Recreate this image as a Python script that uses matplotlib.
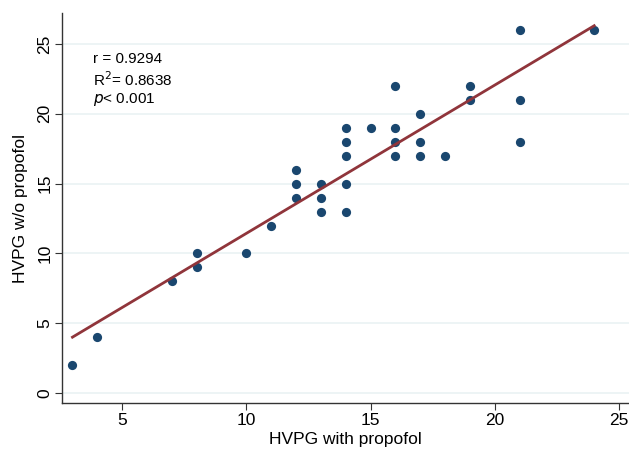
import numpy as np
import matplotlib
matplotlib.use("Agg")
import matplotlib.pyplot as plt

plt.rcParams['font.family'] = ['Liberation Sans', 'DejaVu Sans']

# HVPG readings (mmHg) with and without propofol
hvpg_with = [3, 4, 7, 8, 8, 10, 11, 12, 12, 12,
             13, 13, 13, 14, 14, 14, 14, 14, 15,
             16, 16, 16, 16, 17, 17, 17, 18, 19, 19,
             21, 21, 21, 24]
hvpg_without = [2, 4, 8, 10, 9, 10, 12, 16, 15, 14,
                15, 14, 13, 19, 18, 17, 15, 13, 19,
                22, 19, 18, 17, 20, 18, 17, 17, 22, 21,
                26, 21, 18, 26]
stats_lines = ["r = 0.9294", r"R$^2$= 0.8638", r"$\it{p}$< 0.001"]

x = np.array(hvpg_with, dtype=float)
y = np.array(hvpg_without, dtype=float)
slope, icpt = np.polyfit(x, y, 1)

fig = plt.figure(figsize=(6.29, 4.51), dpi=100)
ax = fig.add_axes([0.0986, 0.1064, 0.9014, 0.8646])

ax.set_xlim(2.58, 25.4)
ax.set_ylim(-0.7, 27.2)
ax.set_yticks([0, 5, 10, 15, 20, 25])
ax.set_xticks([5, 10, 15, 20, 25])
ax.grid(axis='y', color='#eaf2f3', lw=1.2)
ax.set_axisbelow(True)

ax.scatter(x, y, s=44, color='#1a476f', zorder=3, linewidths=0)
xx = np.array([x.min(), x.max()])
ax.plot(xx, icpt + slope * xx, color='#90353b', lw=2.0, zorder=4)

for sp in ['top', 'right']:
    ax.spines[sp].set_visible(False)
for sp in ['left', 'bottom']:
    ax.spines[sp].set_color('#333333')
    ax.spines[sp].set_linewidth(1.0)

ax.tick_params(direction='out', length=5, width=0.8, color='#333333',
               labelsize=12.5, pad=2)
for lab in ax.get_yticklabels():
    lab.set_rotation(90)
    lab.set_va('center')

ax.set_xlabel("HVPG with propofol", fontsize=12.5, labelpad=3)
ax.set_ylabel("HVPG w/o propofol", fontsize=12.5, labelpad=7)

for i, s in enumerate(stats_lines):
    ax.text(3.83, 23.9 - i * 1.43, s, fontsize=11, va='center', ha='left')

fig.savefig("out.png", dpi=100)
